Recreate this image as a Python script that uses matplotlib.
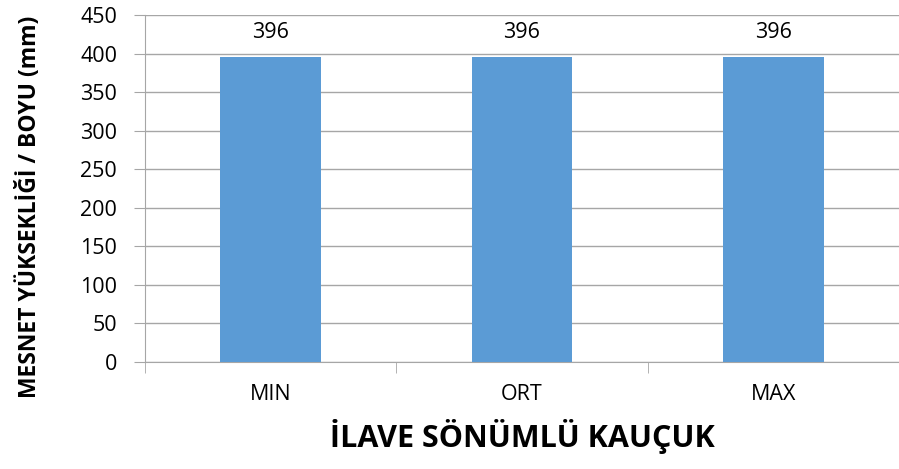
import matplotlib.pyplot as plt
import numpy as np

plt.rcParams['font.family'] = ['Open Sans', 'DejaVu Sans']

categories = ['MIN', 'ORT', 'MAX']
heights = [396, 396, 396]

fig = plt.figure(figsize=(8.99, 4.69), dpi=100)
ax = fig.add_axes([145 / 899, 1 - 362 / 469, 1 - 145 / 899, 347 / 469])

x = np.arange(len(categories))
ax.bar(x, heights, width=0.4, color='#5b9bd5', zorder=3)
for xi, h in zip(x, heights):
    ax.text(xi, h + 18, str(h), ha='center', va='bottom', fontsize=15.5, color='#000000')

ax.set_xlim(-0.5, 2.5)
ax.set_ylim(0, 450)
ax.set_yticks(np.arange(0, 451, 50))
ax.yaxis.grid(True, color='#a6a6a6', linewidth=1, zorder=0)
ax.set_xticks(x)
ax.set_xticklabels(categories, fontsize=15.5)
ax.set_xticks([-0.5, 0.5, 1.5, 2.5], minor=True)
ax.tick_params(axis='x', which='major', length=0, pad=16)
ax.tick_params(axis='x', which='minor', length=8, color='#a6a6a6')
ax.tick_params(axis='y', length=8, color='#a6a6a6', labelsize=15.5, pad=12)

for s in ['top', 'right']:
    ax.spines[s].set_visible(False)
ax.spines['left'].set_color('#a6a6a6')
ax.spines['bottom'].set_color('#a6a6a6')

ax.set_xlabel('İLAVE SÖNÜMLÜ KAUÇUK', fontsize=22, fontweight='bold', labelpad=10)
fig.text(30 / 899, 1 - 207 / 469, 'MESNET YÜKSEKLİĞİ / BOYU (mm)', rotation=90,
         ha='center', va='center', fontsize=16.5, fontweight='bold')

fig.savefig('out.png', dpi=100)
